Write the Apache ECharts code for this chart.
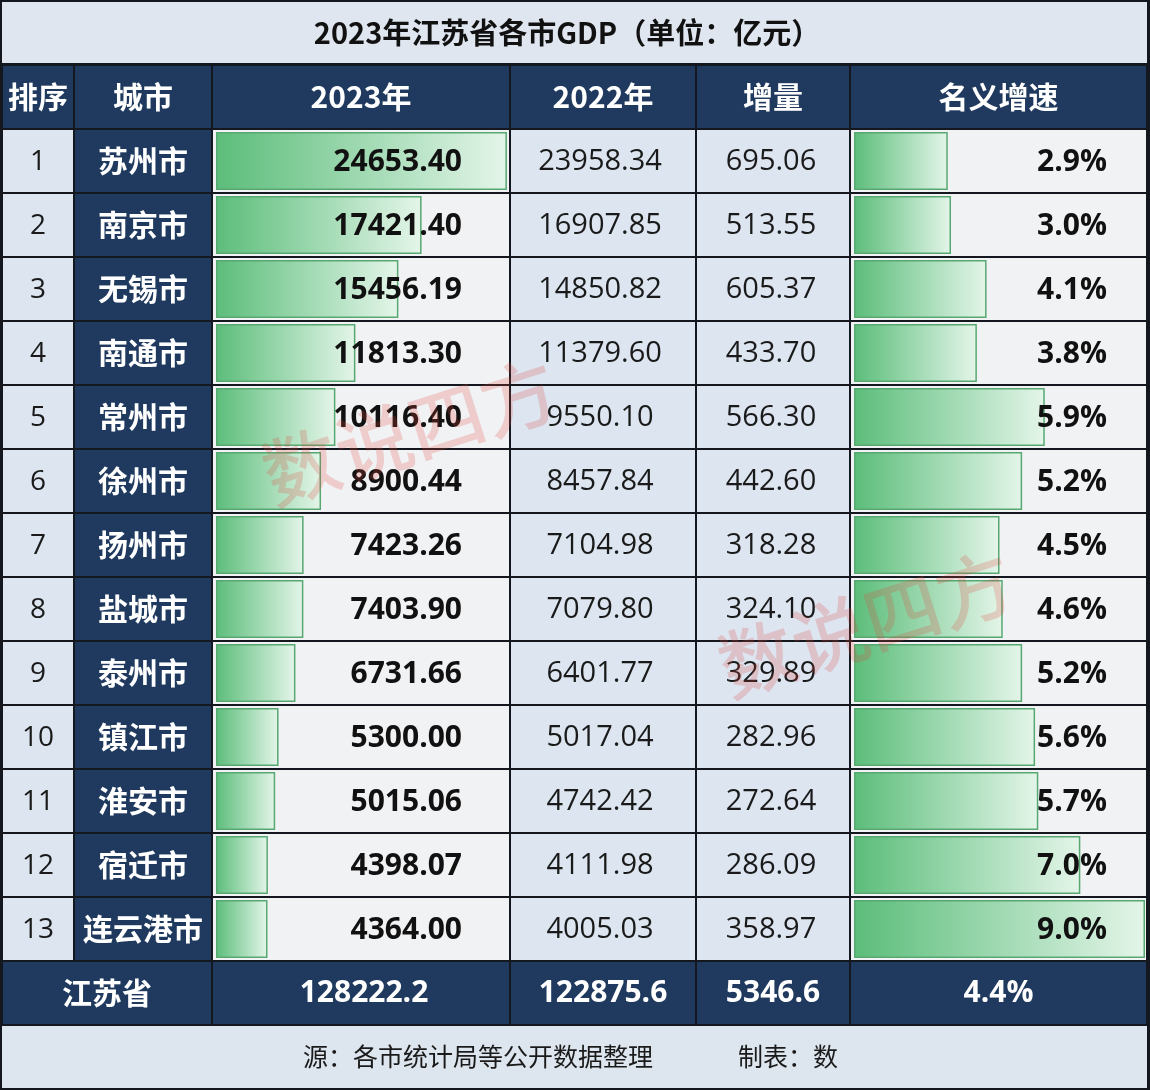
<!DOCTYPE html>
<html><head><meta charset="utf-8">
<script src="https://cdn.jsdelivr.net/npm/echarts@6/dist/echarts.min.js"></script>
<style>html,body{margin:0;padding:0;background:#14181e}#c{width:1150px;height:1090px}</style>
</head><body><div id="c"></div>
<script>
// ---------- data ----------
const title = '2023年江苏省各市GDP（单位：亿元）';
const headers = ['排序', '城市', '2023年', '2022年', '增量', '名义增速'];
const ranks = [1, 2, 3, 4, 5, 6, 7, 8, 9, 10, 11, 12, 13];
const cities = ['苏州市', '南京市', '无锡市', '南通市', '常州市', '徐州市', '扬州市', '盐城市', '泰州市', '镇江市', '淮安市', '宿迁市', '连云港市'];
const gdp2023 = [24653.40, 17421.40, 15456.19, 11813.30, 10116.40, 8900.44, 7423.26, 7403.90, 6731.66, 5300.00, 5015.06, 4398.07, 4364.00];
const gdp2022 = [23958.34, 16907.85, 14850.82, 11379.60, 9550.10, 8457.84, 7104.98, 7079.80, 6401.77, 5017.04, 4742.42, 4111.98, 4005.03];
const increase = [695.06, 513.55, 605.37, 433.70, 566.30, 442.60, 318.28, 324.10, 329.89, 282.96, 272.64, 286.09, 358.97];
const growth = [2.9, 3.0, 4.1, 3.8, 5.9, 5.2, 4.5, 4.6, 5.2, 5.6, 5.7, 7.0, 9.0];
const totalName = '江苏省';
const totalValues = ['128222.2', '122875.6', '5346.6', '4.4%'];
const footerSource = '源：各市统计局等公开数据整理';
const footerMaker = '制表：数';
const watermark = '数说四方';

// ---------- layout / style ----------
const X = [2, 74, 212, 510, 696, 850, 1147];
const ROW_TOP = 129, ROW_H = 64, N = ranks.length;
const NAVY = '#1f3a5e';
const LIGHT = '#dce5f0';
const WHITE = '#f1f2f4';
const colFill = [LIGHT, NAVY, WHITE, LIGHT, LIGHT, WHITE];
const NUM = '"Open Sans", "Noto Sans CJK SC", sans-serif';
const CJK = '"Noto Sans CJK SC", sans-serif';

const chart = echarts.init(document.getElementById('c'), null, {renderer: 'canvas'});

const barGrad = new echarts.graphic.LinearGradient(0, 0, 1, 0, [
  {offset: 0, color: '#5cbd7a'},
  {offset: 0.55, color: '#a6dcb7'},
  {offset: 1, color: '#e4f5e9'}
]);

function txt(text, x, y, font, fill, align) {
  return {type: 'text', style: {text: text, x: x, y: y, font: font, fill: fill,
    textAlign: align || 'center', textVerticalAlign: 'middle', align: align || 'center', verticalAlign: 'middle'}};
}

const rowData = ranks.map((r, i) => [0, i]);

const graphics = [];
// title band
graphics.push({type: 'rect', shape: {x: 2, y: 2, width: 1145, height: 61}, style: {fill: '#dfe6ef'}, z: 1});
graphics.push(Object.assign(txt(title, 567, 33, 'bold 29px ' + CJK, '#111'), {z: 2}));
// header
for (let k = 0; k < 6; k++) {
  graphics.push({type: 'rect', shape: {x: X[k] + 1, y: 66, width: X[k + 1] - X[k] - 2, height: 62}, style: {fill: NAVY}, z: 1});
  graphics.push(Object.assign(txt(headers[k], (X[k] + X[k + 1]) / 2, 97, 'bold 30px ' + CJK, '#ffffff'), {z: 2}));
}
// summary row
const SY = ROW_TOP + N * ROW_H;
graphics.push({type: 'rect', shape: {x: X[0] + 1, y: SY + 1, width: X[2] - X[0] - 2, height: 62}, style: {fill: NAVY}, z: 1});
graphics.push(Object.assign(txt(totalName, (X[0] + X[2]) / 2, SY + 32, 'bold 30px ' + CJK, '#ffffff'), {z: 2}));
for (let k = 2; k < 6; k++) {
  graphics.push({type: 'rect', shape: {x: X[k] + 1, y: SY + 1, width: X[k + 1] - X[k] - 2, height: 62}, style: {fill: NAVY}, z: 1});
  graphics.push(Object.assign(txt(totalValues[k - 2], (X[k] + X[k + 1]) / 2 + (k === 2 ? 3 : 0), SY + 32, 'bold 30px ' + NUM, '#ffffff'), {z: 2}));
}
// footer
const FY = SY + 65;
graphics.push({type: 'rect', shape: {x: 2, y: FY, width: 1145, height: 1088 - FY}, style: {fill: '#dde5ee'}, z: 1});
graphics.push(Object.assign(txt(footerSource, 303, FY + 30, '25px ' + CJK, '#1a1a1a', 'left'), {z: 2}));
graphics.push(Object.assign(txt(footerMaker, 738, FY + 30, '25px ' + CJK, '#1a1a1a', 'left'), {z: 2}));
// watermarks
[[410, 432], [866, 624]].forEach(p => {
  graphics.push({type: 'text', x: p[0], y: p[1], rotation: 0.31, z: 100,
    style: {text: watermark, x: 0, y: 0, font: '500 76px ' + CJK, fill: 'rgba(225,70,60,0.22)',
      textAlign: 'center', textVerticalAlign: 'middle', align: 'center', verticalAlign: 'middle'}});
});

const gridH = N * ROW_H;
const option = {
  backgroundColor: '#14181e',
  animation: false,
  grid: [
    {left: 0, top: ROW_TOP, width: 1150, height: gridH},
    {left: 216, top: ROW_TOP, width: 295, height: gridH},
    {left: 854, top: ROW_TOP, width: 291, height: gridH}
  ],
  xAxis: [
    {type: 'value', gridIndex: 0, min: 0, max: 1150, show: false},
    {type: 'value', gridIndex: 1, min: 0, max: 25000, show: false},
    {type: 'value', gridIndex: 2, min: 0, max: 9, show: false}
  ],
  yAxis: [
    {type: 'category', gridIndex: 0, data: ranks, inverse: true, show: false},
    {type: 'category', gridIndex: 1, data: ranks, inverse: true, show: false},
    {type: 'category', gridIndex: 2, data: ranks, inverse: true, show: false}
  ],
  graphic: graphics,
  series: [
    {
      type: 'custom', xAxisIndex: 0, yAxisIndex: 0, z: 1, data: rowData, silent: true,
      renderItem: function (params, api) {
        const i = api.value(1);
        const c = api.coord([0, i]);
        const h = api.size([0, 1])[1];
        const top = c[1] - h / 2;
        const children = [];
        for (let k = 0; k < 6; k++) {
          const x0 = api.coord([X[k], i])[0], x1 = api.coord([X[k + 1], i])[0];
          children.push({type: 'rect', shape: {x: x0 + 1, y: top + 1, width: x1 - x0 - 2, height: h - 2}, style: {fill: colFill[k]}});
        }
        return {type: 'group', children: children};
      }
    },
    {
      type: 'bar', xAxisIndex: 1, yAxisIndex: 1, z: 2, data: gdp2023, barWidth: 58,
      itemStyle: {color: barGrad, borderColor: '#58a872', borderWidth: 1.5}
    },
    {
      type: 'bar', xAxisIndex: 2, yAxisIndex: 2, z: 2, data: growth, barWidth: 58,
      itemStyle: {color: barGrad, borderColor: '#58a872', borderWidth: 1.5}
    },
    {
      type: 'custom', xAxisIndex: 0, yAxisIndex: 0, z: 5, data: rowData, silent: true,
      renderItem: function (params, api) {
        const i = params.dataIndex;
        const cy = api.coord([0, i])[1];
        const cx = k => (api.coord([X[k], i])[0] + api.coord([X[k + 1], i])[0]) / 2;
        return {type: 'group', children: [
          txt(String(ranks[i]), cx(0), cy + 1, '28px ' + NUM, '#1a1a1a'),
          txt(cities[i], cx(1), cy, 'bold 30px ' + CJK, '#ffffff'),
          txt(gdp2023[i].toFixed(2), 462, cy + 1, 'bold 30px ' + NUM, '#111111', 'right'),
          txt(gdp2022[i].toFixed(2), cx(3) - 3, cy + 1, '29px ' + NUM, '#1a1a1a'),
          txt(increase[i].toFixed(2), cx(4) - 2, cy + 1, '29px ' + NUM, '#1a1a1a'),
          txt(growth[i].toFixed(1) + '%', 1107, cy + 1, 'bold 30px ' + NUM, '#111111', 'right')
        ]};
      }
    }
  ]
};
chart.setOption(option);
</script>
</body></html>
